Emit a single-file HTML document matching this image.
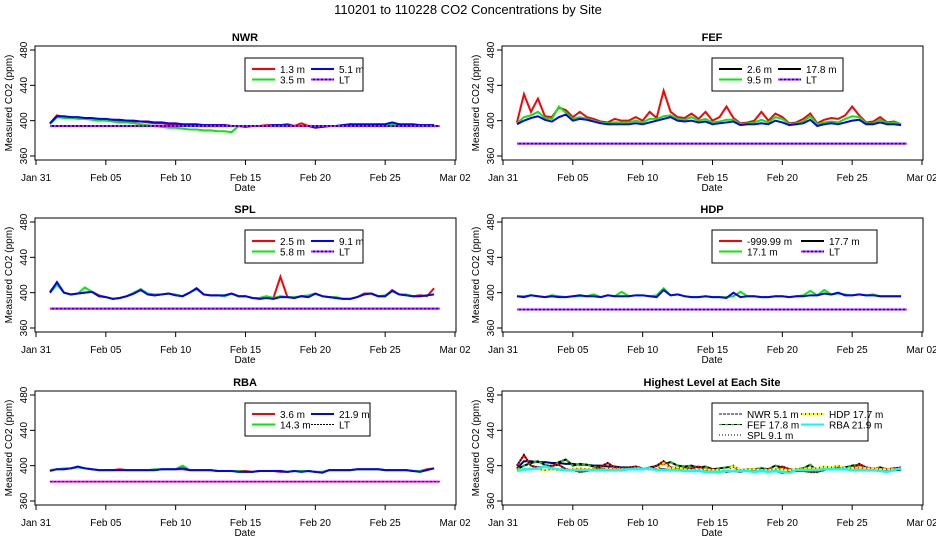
<!DOCTYPE html>
<html><head><meta charset="utf-8">
<style>
body{margin:0;background:#fff;}
svg{display:block;font-family:"Liberation Sans",sans-serif;}
</style></head>
<body>
<svg id="c" width="936" height="540" viewBox="0 0 936 540">
<text x="468" y="14" text-anchor="middle" font-size="13">110201  to  110228 CO2 Concentrations by Site</text>
</svg>
<script>
const xTickLabels=["Jan 31","Feb 05","Feb 10","Feb 15","Feb 20","Feb 25","Mar 02"];
const xTickDays=[0,5,10,15,20,25,30];
const yTicks=[360,400,440,480];

const nwr13=[397,406,404,404,403,403,402,402,401,401,400,400,399,399,398,397,397,396,396,395,395,395,395,395,395,395,394,394,394,394,394,395,395,395,396,394,397,394,393,393,394,394,395,396,395,395,395,396,395,396,396,395,395,395,395,395];
const nwr35=[396,404,403,403,402,402,401,400,400,399,398,398,397,396,395,394,393,392,392,391,390,390,389,389,388,388,387,394,394,394,394,394,395,395,395,394,394,394,393,393,394,394,395,395,395,395,395,395,395,396,395,395,395,395,395,395];
const nwr51=[397,405,405,404,404,403,403,402,402,401,401,400,400,399,399,398,398,397,397,396,396,396,395,395,395,395,394,394,393,394,394,394,395,395,395,394,394,394,392,393,394,394,395,396,396,396,396,396,396,398,396,396,396,395,395,395];
const nwrLT=[394,394];

const fef26=[398,430,410,425,405,404,415,412,404,410,404,402,399,398,402,400,400,404,400,410,403,434,410,404,403,408,402,410,400,404,416,403,397,398,400,410,400,408,404,397,398,402,408,397,401,403,402,406,416,406,398,399,404,398,399,396];
const fef95=[397,404,406,410,403,402,416,409,402,404,402,400,398,397,398,398,398,400,398,402,402,405,406,402,401,404,400,402,398,399,401,401,396,397,398,401,398,404,402,396,397,399,405,396,398,399,398,402,405,404,397,397,401,397,398,396];
const fef178=[396,400,403,405,401,399,404,407,400,402,401,399,397,396,396,396,396,397,396,398,400,402,404,400,399,400,398,399,396,397,398,399,395,396,396,397,396,400,398,395,396,397,401,394,396,397,396,398,400,401,396,396,398,396,396,395];
const fefLT=[374,374];

const spl25=[401,411,400,398,399,400,401,397,395,393,394,396,399,404,398,397,398,399,397,396,400,405,398,397,397,396,399,396,396,394,394,395,394,418,395,394,396,395,399,396,395,394,393,393,395,399,399,396,396,403,398,397,396,397,396,405];
const spl58=[400,409,400,398,399,406,401,396,395,393,394,396,400,404,399,398,398,399,398,396,400,404,398,397,397,396,399,396,396,394,394,396,394,396,395,395,396,397,399,396,395,395,393,393,395,398,399,396,397,402,398,398,396,396,397,398];
const spl91=[400,412,400,398,399,400,401,396,395,393,394,396,399,403,398,397,398,399,397,396,400,405,398,397,397,397,399,396,396,394,393,394,393,395,395,394,396,395,399,396,395,394,393,393,395,398,399,396,396,402,398,397,396,396,397,398];
const splLT=[382,382];

const hdp177=[396,395,397,396,395,396,395,395,396,397,396,396,395,397,396,396,396,397,397,396,395,403,397,398,396,395,395,396,395,395,394,400,395,396,396,395,395,396,396,395,396,396,397,397,399,398,400,397,397,398,397,397,396,396,396,396];
const hdp171=[396,396,397,396,395,397,396,395,396,396,396,398,395,397,396,401,396,397,397,396,397,405,397,398,396,395,395,396,395,395,395,396,401,396,396,395,395,396,396,395,396,397,402,397,403,398,399,398,397,398,397,398,396,396,396,396];
const hdpLT=[381,381];

const rba36=[395,396,396,397,398,397,396,395,395,395,396,395,395,395,395,395,396,396,396,396,395,395,395,395,394,394,394,394,394,393,394,394,394,393,393,394,394,394,393,393,395,395,395,395,396,396,396,396,395,395,395,395,394,394,396,397];
const rba143=[395,396,397,397,398,397,396,395,395,395,395,395,395,395,395,396,396,396,396,400,395,395,395,395,394,394,394,394,393,393,394,394,394,394,393,394,394,394,393,393,395,395,395,395,396,396,396,396,395,395,395,395,394,394,395,397];
const rba219=[394,396,396,397,399,397,396,395,395,395,395,395,395,395,395,395,396,396,396,397,395,395,395,395,394,394,394,393,393,393,394,394,394,394,393,394,393,394,393,392,395,395,395,395,396,396,396,396,395,395,395,395,394,393,395,397];
const rbaLT=[382,382];

const NS='http://www.w3.org/2000/svg';
const svg=document.getElementById('c');
function mk(tag,attrs,parent){const e=document.createElementNS(NS,tag);for(const k in attrs)e.setAttribute(k,attrs[k]);(parent||svg).appendChild(e);return e;}

function panel(dx,dy,title,key,series,legend,legW,legCols){
  const g=mk('g',{transform:`translate(${dx},${dy})`});
  
  
  const xs=d=>36+d*419/30;
  const ys=v=>156-(v-360)*106/120;
  const t=mk('text',{x:245,y:41,'text-anchor':'middle','font-size':11,'font-weight':'bold'},g);t.textContent=title;
  
  
  const box=mk('rect',{x:35,y:46,width:421,height:114,fill:'none',stroke:'#000','stroke-width':1},g);
  
  
  xTickDays.forEach((d,i)=>{
    mk('line',{x1:xs(d),x2:xs(d),y1:160,y2:165,stroke:'#000'},g);
    const l=mk('text',{x:xs(d),y:181,'text-anchor':'middle','font-size':10},g);l.textContent=xTickLabels[i];
    
    
  });
  yTicks.forEach(v=>{
    mk('line',{x1:30,x2:35,y1:ys(v),y2:ys(v),stroke:'#000'},g);
    const l=mk('text',{x:0,y:0,'text-anchor':'middle','font-size':10,transform:`translate(27,${ys(v)}) rotate(-90)`},g);l.textContent=v;
    
    
  });
  const xl=mk('text',{x:245,y:191,'text-anchor':'middle','font-size':10},g);xl.textContent='Date';
  
  
  const yl=mk('text',{x:0,y:0,'text-anchor':'middle','font-size':10,transform:'translate(12,103) rotate(-90)'},g);yl.textContent='Measured CO2 (ppm)';
  
  
  series.forEach(s=>{
    let pts;
    if(s.data.length===2){pts=`${xs(1)},${ys(s.data[0])} ${xs(28.9)},${ys(s.data[1])}`;}
    else{const a=[];s.data.forEach((v,i)=>{const d=1+i*0.5;a.push(`${xs(d)},${ys(v)}`);});pts=a.join(' ');}
    (s.strokes||[{c:s.c,w:s.w||2,da:s.da}]).forEach(st=>{
      const p=mk('polyline',{points:pts,fill:'none',stroke:st.c,'stroke-width':st.w,'stroke-dasharray':st.da||'none','stroke-linejoin':'miter'},g);
      
      
    });
  });
  const lx=245,ly=58,lh=legend.length>4?38:33;
  const lb=mk('rect',{x:lx,y:ly,width:legW,height:lh,fill:'#fff',stroke:'#000'},g);
  
  
  const rows=Math.ceil(legend.length/2);
  legend.forEach((e,i)=>{
    const col=Math.floor(i/rows),row=i%rows;
    const x0=lx+7+col*legCols,y0=ly+11+row*10.5;
    (e.strokes||[{c:e.c,w:2,da:e.da}]).forEach(st=>mk('line',{x1:x0,x2:x0+23,y1:y0,y2:y0,stroke:st.c,'stroke-width':st.w,'stroke-dasharray':st.da||'none'},g));
    const tx=mk('text',{x:x0+28,y:y0+4,'font-size':10},g);tx.textContent=e.t;
    
    
  });
}
const LT={n:'lt',strokes:[{c:'#0000ff',w:2},{c:'#ff00ff',w:2,da:'2,2'}]};
panel(0,0,'NWR','nwr',[{n:'1.3m',data:nwr13,c:'#ff0000'},{n:'3.5m',data:nwr35,c:'#00ee00'},{n:'5.1m',data:nwr51,c:'#0000ff'},{...LT,data:nwrLT}],
 [{t:'1.3 m',c:'#ff0000'},{t:'3.5 m',c:'#00ee00'},{t:'5.1 m',c:'#0000ff'},{t:'LT',strokes:LT.strokes}],118,59);
panel(467,0,'FEF','fef',[{n:'2.6m',data:fef26,c:'#ff0000'},{n:'9.5m',data:fef95,c:'#00ee00'},{n:'17.8m',data:fef178,c:'#0000ff'},{...LT,data:fefLT}],
 [{t:'2.6 m',c:'#000'},{t:'9.5 m',c:'#00ee00'},{t:'17.8 m',c:'#000'},{t:'LT',strokes:LT.strokes}],131,59);
panel(0,172,'SPL','spl',[{n:'2.5m',data:spl25,c:'#ff0000'},{n:'5.8m',data:spl58,c:'#00ee00'},{n:'9.1m',data:spl91,c:'#0000ff'},{...LT,data:splLT}],
 [{t:'2.5 m',c:'#ff0000'},{t:'5.8 m',c:'#00ee00'},{t:'9.1 m',c:'#0000ff'},{t:'LT',strokes:LT.strokes}],118,59);
panel(467,172,'HDP','hdp',[{n:'17.1m',data:hdp171,c:'#00ee00'},{n:'17.7m',data:hdp177,c:'#0000ff'},{...LT,data:hdpLT}],
 [{t:'-999.99 m',c:'#ff0000'},{t:'17.1 m',c:'#00ee00'},{t:'17.7 m',c:'#000'},{t:'LT',strokes:LT.strokes}],165,82);
panel(0,345,'RBA','rba',[{n:'3.6m',data:rba36,c:'#ff0000'},{n:'14.3m',data:rba143,c:'#00ee00'},{n:'21.9m',data:rba219,c:'#0000ff'},{...LT,data:rbaLT,strokes:[{c:'#ff00ff',w:2},{c:'#0000ff',w:1,da:'2,2'}]}],
 [{t:'3.6 m',c:'#ff0000'},{t:'14.3 m',c:'#00ee00'},{t:'21.9 m',c:'#0000ff'},{t:'LT',strokes:[{c:'#000',w:1,da:'2,1'}]}],125,59);
panel(467,345,'Highest Level at Each Site','highest',[
 {n:'nwr',data:nwr51,strokes:[{c:'#000080',w:2}]},
 {n:'fef',data:fef178,strokes:[{c:'#000',w:2},{c:'#00cc00',w:2,da:'3,3'}]},
 {n:'spl',data:spl91,strokes:[{c:'#ff0000',w:2},{c:'#000',w:2,da:'1,2'}]},
 {n:'hdp',data:hdp177,strokes:[{c:'#ffff00',w:2},{c:'#ff0000',w:2,da:'1,3'}]},
 {n:'rba',data:rba219,strokes:[{c:'#00ffff',w:2.5}]}],
 [{t:'NWR  5.1 m',strokes:[{c:'#000080',w:1,da:'3,1'}]},{t:'FEF  17.8 m',strokes:[{c:'#000',w:1},{c:'#00cc00',w:1,da:'3,3'}]},{t:'SPL  9.1 m',strokes:[{c:'#000',w:1,da:'1,2'}]},
  {t:'HDP  17.7 m',strokes:[{c:'#ffff00',w:2},{c:'#ff0000',w:2,da:'1,3'}]},{t:'RBA  21.9 m',strokes:[{c:'#00ffff',w:2}]}],156,82);
</script>
</body></html>
